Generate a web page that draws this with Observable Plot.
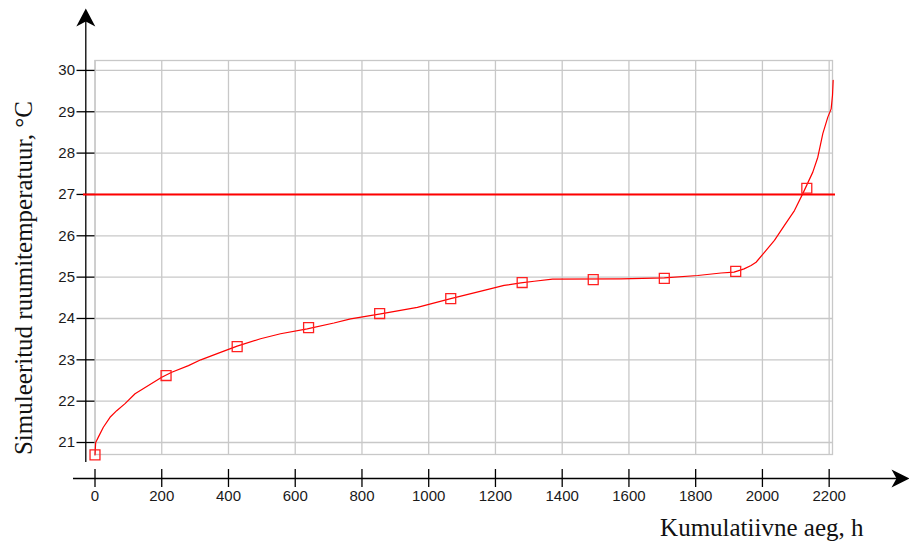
<!DOCTYPE html>
<html><head><meta charset="utf-8">
<script src="https://cdn.jsdelivr.net/npm/d3@7"></script>
<script src="https://cdn.jsdelivr.net/npm/@observablehq/plot@0.6"></script>
<style>html,body{margin:0;padding:0;background:#fff;} #chart svg{display:block}</style>
</head><body><div id="chart"></div>
<script>
// Duration curve of simulated room temperature
const hours = [0, 2, 10, 25, 45, 65, 90, 120, 160, 200, 230, 280, 317, 376, 426, 496, 556, 636, 716, 766, 856, 966, 1066, 1166, 1226, 1276, 1316, 1371, 1576, 1706, 1806, 1876, 1915, 1945, 1966, 1981, 2006, 2036, 2066, 2096, 2121, 2151, 2166, 2181, 2196, 2206, 2210, 2212];
const temps = [20.7, 21.0, 21.13, 21.37, 21.61, 21.77, 21.94, 22.18, 22.38, 22.58, 22.70, 22.86, 23.0, 23.18, 23.33, 23.51, 23.63, 23.75, 23.89, 23.99, 24.11, 24.27, 24.48, 24.68, 24.80, 24.86, 24.90, 24.95, 24.96, 24.98, 25.04, 25.10, 25.12, 25.20, 25.28, 25.36, 25.60, 25.89, 26.25, 26.61, 27.02, 27.54, 27.9, 28.47, 28.87, 29.07, 29.4, 29.76];
const markerHours = [0, 213, 426, 640, 853, 1066, 1280, 1493, 1706, 1920, 2133];
const markerTemps = [20.7, 22.62, 23.32, 23.78, 24.12, 24.48, 24.87, 24.94, 24.97, 25.14, 27.15];
const limitTemp = 27;
const xTicks = [0, 200, 400, 600, 800, 1000, 1200, 1400, 1600, 1800, 2000, 2200];
const yTicks = [21, 22, 23, 24, 25, 26, 27, 28, 29, 30];
const xTitle = "Kumulatiivne aeg, h";
const yTitle = "Simuleeritud ruumitemperatuur, °C";

const xDomain = [0, 2210];
const yDomain = [20.71, 30.24];

const curve = hours.map((h, i) => ({h, t: temps[i]}));
const markers = markerHours.map((h, i) => ({h, t: markerTemps[i]}));

const arrowUp = {draw(ctx) { ctx.moveTo(0, 0); ctx.lineTo(9.5, 18); ctx.lineTo(0, 13); ctx.lineTo(-9.5, 18); ctx.closePath(); }};
const arrowRight = {draw(ctx) { ctx.moveTo(0, 0); ctx.lineTo(-18, -9); ctx.lineTo(-13, 0); ctx.lineTo(-18, 9); ctx.closePath(); }};

const gridStyle = {stroke: "#c8c8c8", strokeOpacity: 1, strokeWidth: 1.3};

const chart = Plot.plot({
  width: 909,
  height: 544,
  marginLeft: 94.5,
  marginRight: 77,
  marginTop: 60,
  marginBottom: 90,
  style: {fontFamily: "'Liberation Sans', Arial, sans-serif", fontSize: "15px", color: "#1a1a1a", background: "#fff"},
  x: {domain: xDomain},
  y: {domain: yDomain},
  marks: [
    Plot.gridX(xTicks, gridStyle),
    Plot.gridY(yTicks, gridStyle),
    Plot.frame({stroke: "#c8c8c8", strokeWidth: 1.3}),
    Plot.axisY(yTicks, {tickSize: 18, tickPadding: 2, label: null, tickFormat: d => String(d), strokeWidth: 1.3, stroke: "#000"}),
    Plot.axisX(xTicks, {tickSize: 18, dy: 15, tickPadding: 3, label: null, tickFormat: d => String(d), strokeWidth: 1.3, stroke: "#000"}),
    // axis lines with arrowheads
    Plot.ruleX([0], {dx: -9.2, insetTop: -48, insetBottom: -8, stroke: "#000", strokeWidth: 1.3}),
    Plot.ruleY([yDomain[0]], {dy: 24, insetLeft: -21.5, insetRight: -72, stroke: "#000", strokeWidth: 1.3}),
    Plot.dot([0], {frameAnchor: "top-left", dx: -9.2, dy: -52, symbol: arrowUp, fill: "#000", stroke: null}),
    Plot.dot([0], {frameAnchor: "bottom-right", dx: 77, dy: 24, symbol: arrowRight, fill: "#000", stroke: null}),
    // limit line
    Plot.ruleY([limitTemp], {stroke: "#ff0000", strokeWidth: 2, insetLeft: -11.5, insetRight: -3}),
    // curve
    Plot.line(curve, {x: "h", y: "t", stroke: "#ff0000", strokeWidth: 1.2}),
    Plot.dot(markers, {x: "h", y: "t", symbol: "square", r: 5.6, stroke: "#ff2020", fill: "none", strokeWidth: 1.3}),
    // titles
    Plot.text([yTitle], {frameAnchor: "left", dx: -71.5, dy: 20.5, rotate: -90, textAnchor: "middle", lineAnchor: "middle", fontFamily: "'Liberation Serif', 'Times New Roman', serif", fontSize: 25, fill: "#111"}),
    Plot.text([xTitle], {frameAnchor: "bottom-right", dx: 31, dy: 73, textAnchor: "end", lineAnchor: "middle", fontFamily: "'Liberation Serif', 'Times New Roman', serif", fontSize: 25, fill: "#111"})
  ]
});
document.getElementById("chart").appendChild(chart);
</script>
</body></html>
